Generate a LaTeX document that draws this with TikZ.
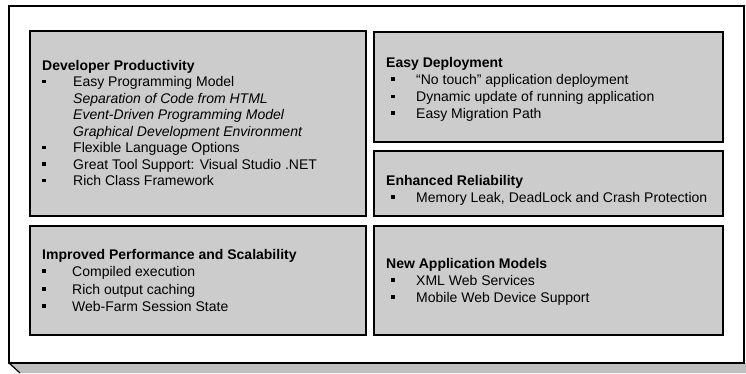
\documentclass[tikz,border=0pt]{standalone}
\usepackage{fontspec}
\setmainfont{Liberation Sans}
\begin{document}
\begin{tikzpicture}[x=1pt,y=-1pt,
  panel/.style={draw=black,line width=1.6pt,fill=gray!40},
  ttl/.style={anchor=base west,inner sep=0pt,font=\fontsize{14}{16}\selectfont\bfseries},
  itm/.style={anchor=base west,inner sep=0pt,font=\fontsize{14}{16}\selectfont},
  itl/.style={anchor=base west,inner sep=0pt,font=\fontsize{14}{16}\selectfont\itshape},
  bul/.style={fill=black,inner sep=0pt,minimum size=3.6pt,draw=none}]
\useasboundingbox (0,0) rectangle (746,373);
\fill[white] (0,0) rectangle (746,373);
% bevel base
\fill[gray!50] (9,363) -- (20,373) -- (746,373) -- (746,363) -- cycle;
\draw[line width=1.2pt] (9,363) -- (20,373);
% outer frame
\draw[line width=1.4pt] (9,6) rectangle (744,363);
% panels
\draw[panel] (30,31) rectangle (366,216);
\draw[panel] (374,32) rectangle (723,142);
\draw[panel] (374,151) rectangle (723,216);
\draw[panel] (30,226) rectangle (366,335);
\draw[panel] (374,226) rectangle (723,335);
% box 1
\node[ttl] (t1) at (42,70) {Developer Productivity};
\node[bul] (b11) at (44,81.5) {}; \node[itm] (l11) at (73,86.5) {Easy Programming Model};
\node[itl] (l12) at (73,103) {Separation of Code from HTML};
\node[itl] (l13) at (73,119.5) {Event-Driven Programming Model};
\node[itl] (l14) at (73,136) {Graphical Development Environment};
\node[bul] (b15) at (44,147.5) {}; \node[itm] (l15) at (73,152.5) {Flexible Language Options};
\node[bul] (b16) at (44,164) {}; \node[itm] (l16) at (73,169) {Great Tool Support: Visual Studio .NET};
\node[bul] (b17) at (44,180.5) {}; \node[itm] (l17) at (73,185.5) {Rich Class Framework};
% box 2
\node[ttl] (t2) at (386,67) {Easy Deployment};
\node[bul] (b21) at (393,79) {}; \node[itm] (l21) at (416,84) {“No touch” application deployment};
\node[bul] (b22) at (393,96.5) {}; \node[itm] (l22) at (416,101.5) {Dynamic update of running application};
\node[bul] (b23) at (393,113) {}; \node[itm] (l23) at (416,118) {Easy Migration Path};
% box enhanced
\node[ttl] (t3) at (386,185) {Enhanced Reliability};
\node[bul] (b31) at (393,197) {}; \node[itm] (l31) at (416,202) {Memory Leak, DeadLock and Crash Protection};
% box 3
\node[ttl] (t4) at (42,259) {Improved Performance and Scalability};
\node[bul] (b41) at (44,271) {}; \node[itm] (l41) at (72,276) {Compiled execution};
\node[bul] (b42) at (44,289) {}; \node[itm] (l42) at (72,294) {Rich output caching};
\node[bul] (b43) at (44,306) {}; \node[itm] (l43) at (72,311) {Web-Farm Session State};
% box 4
\node[ttl] (t5) at (386,268) {New Application Models};
\node[bul] (b51) at (393,280) {}; \node[itm] (l51) at (416,285) {XML Web Services};
\node[bul] (b52) at (393,297) {}; \node[itm] (l52) at (416,302) {Mobile Web Device Support};
\end{tikzpicture}
\end{document}
